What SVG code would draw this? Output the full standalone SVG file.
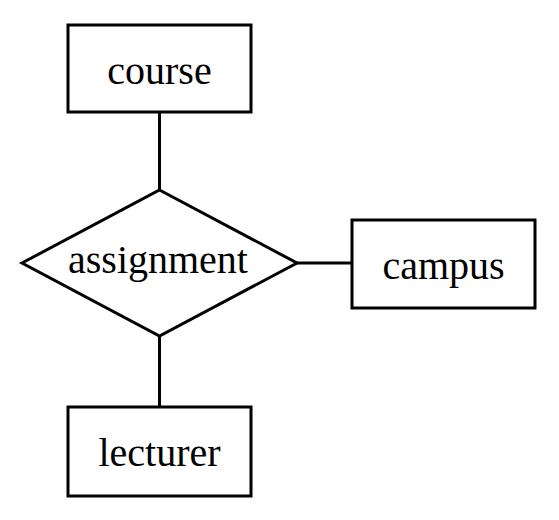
<svg xmlns="http://www.w3.org/2000/svg" width="559" height="520" viewBox="0 0 559 520">
<style>
.shape{fill:#fff;stroke:#000;stroke-width:3}
.conn{stroke:#000;stroke-width:3;fill:none}
.lbl{font-family:"Liberation Serif","Times New Roman",serif;font-size:40px;fill:#000;text-anchor:middle}
</style>
<rect width="559" height="520" fill="#fff"/>
<g id="connectors">
<line class="conn" x1="159.5" y1="112" x2="159.5" y2="190"/>
<line class="conn" x1="159.5" y1="336" x2="159.5" y2="407"/>
<line class="conn" x1="297" y1="263" x2="352" y2="263"/>
</g>
<g id="course">
<rect class="shape" x="68" y="25" width="183" height="87"/>
<text class="lbl" x="159.5" y="84">course</text>
</g>
<g id="assignment">
<polygon class="shape" points="159.5,190 297,263 159.5,336 22,263"/>
<text class="lbl" x="158" y="273">assignment</text>
</g>
<g id="campus">
<rect class="shape" x="352" y="220" width="183" height="88"/>
<text class="lbl" x="443.5" y="279">campus</text>
</g>
<g id="lecturer">
<rect class="shape" x="68" y="407" width="183" height="89"/>
<text class="lbl" x="159.5" y="466">lecturer</text>
</g>
</svg>
